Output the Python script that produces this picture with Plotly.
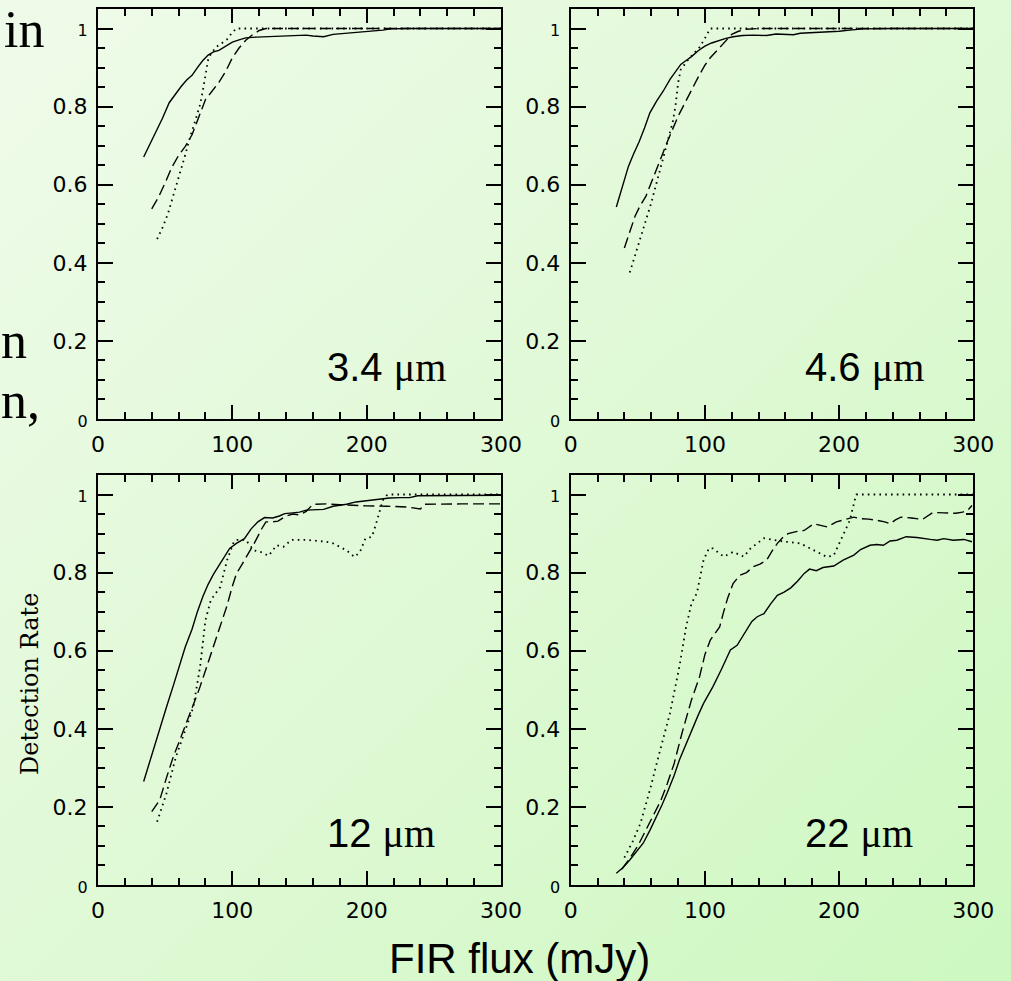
import base64
import plotly.graph_objects as go

# ---- detection-rate curves, one panel per WISE band ----
# 3.4 micron
s34_x = [34, 38, 43, 48, 53, 58, 62, 66, 70, 74, 78, 82, 86, 90, 95, 100, 105, 110, 118, 126,
         135, 145, 155, 160, 168, 175, 185, 195, 205, 212, 218, 230, 260, 300]
s34_y = [0.671, 0.70, 0.733, 0.77, 0.81, 0.835, 0.852, 0.868, 0.880, 0.900, 0.918, 0.932, 0.940,
         0.944, 0.955, 0.965, 0.971, 0.976, 0.978, 0.979, 0.979, 0.980, 0.983, 0.981, 0.979, 0.985,
         0.988, 0.991, 0.993, 0.996, 0.999, 1.0, 1.0, 1.0]
d34_x = [40, 45, 50, 55, 60, 65, 70, 75, 80, 85, 90, 95, 100, 105, 110, 115, 120, 125, 160, 220, 300]
d34_y = [0.538, 0.568, 0.605, 0.645, 0.675, 0.698, 0.728, 0.775, 0.818, 0.840, 0.862, 0.890, 0.925,
         0.950, 0.970, 0.984, 0.995, 1.0, 1.0, 1.0, 1.0]
o34_x = [44, 48, 52, 56, 60, 64, 68, 72, 76, 78, 80, 82, 84, 88, 92, 96, 100, 103, 150, 220, 300]
o34_y = [0.461, 0.49, 0.525, 0.57, 0.615, 0.665, 0.715, 0.76, 0.805, 0.84, 0.885, 0.92, 0.935,
         0.953, 0.962, 0.972, 0.99, 1.0, 1.0, 1.0, 1.0]

# 4.6 micron
s46_x = [34, 38, 43, 47, 51, 55, 59, 64, 69, 74, 78, 82, 86, 90, 95, 100, 105, 110, 115, 121,
         128, 136, 146, 153, 160, 166, 171, 180, 190, 200, 208, 218, 240, 300]
s46_y = [0.543, 0.59, 0.647, 0.68, 0.71, 0.745, 0.784, 0.814, 0.84, 0.87, 0.89, 0.908, 0.918, 0.928,
         0.943, 0.955, 0.963, 0.969, 0.974, 0.979, 0.982, 0.983, 0.982, 0.986, 0.985, 0.984, 0.988,
         0.989, 0.991, 0.993, 0.996, 0.999, 1.0, 1.0]
d46_x = [40, 44, 48, 52, 56, 60, 64, 68, 72, 76, 80, 84, 88, 92, 96, 100, 104, 108, 112, 116,
         120, 125, 130, 140, 180, 220, 300]
d46_y = [0.438, 0.48, 0.52, 0.548, 0.57, 0.605, 0.638, 0.675, 0.71, 0.745, 0.775, 0.802, 0.83,
         0.857, 0.882, 0.906, 0.925, 0.94, 0.955, 0.97, 0.985, 0.993, 0.998, 1.0, 1.0, 1.0, 1.0]
o46_x = [44, 48, 52, 56, 60, 64, 68, 72, 76, 78, 80, 82, 84, 88, 92, 96, 100, 104, 130, 200, 300]
o46_y = [0.375, 0.42, 0.462, 0.505, 0.553, 0.605, 0.655, 0.708, 0.76, 0.80, 0.86, 0.895, 0.905,
         0.922, 0.937, 0.952, 0.975, 1.0, 1.0, 1.0, 1.0]

# 12 micron
s12_x = [34, 38, 42, 46, 51, 56, 61, 65, 70, 74, 78, 82, 86, 90, 94, 98, 103, 109, 114, 119,
         124, 130, 135, 139, 145, 150, 155, 162, 168, 175, 185, 192, 200, 210, 217, 225, 232, 238,
         260, 300]
s12_y = [0.265, 0.31, 0.354, 0.405, 0.456, 0.51, 0.567, 0.61, 0.655, 0.70, 0.738, 0.77, 0.796,
         0.818, 0.838, 0.862, 0.875, 0.887, 0.912, 0.93, 0.941, 0.94, 0.945, 0.951, 0.953, 0.955,
         0.960, 0.961, 0.962, 0.970, 0.975, 0.981, 0.984, 0.988, 0.991, 0.992, 0.992, 0.997,
         0.997, 0.998]
d12_x = [40, 46, 51, 56, 61, 66, 71, 76, 81, 86, 91, 96, 100, 103, 107, 111, 116, 122, 125, 130,
         134, 140, 145, 150, 155, 160, 170, 180, 190, 200, 215, 230, 240, 243, 270, 300]
d12_y = [0.188, 0.218, 0.275, 0.328, 0.372, 0.415, 0.462, 0.508, 0.56, 0.612, 0.665, 0.715, 0.765,
         0.797, 0.82, 0.843, 0.873, 0.913, 0.93, 0.93, 0.932, 0.945, 0.95, 0.948, 0.957, 0.975,
         0.976, 0.974, 0.972, 0.971, 0.970, 0.968, 0.963, 0.975, 0.976, 0.976]
o12_x = [44, 51, 58, 66, 71, 76, 80, 84, 91, 96, 101, 103, 110, 116, 121, 127, 133, 138, 144,
         155, 170, 175, 185, 191, 195, 199, 204, 207, 212, 215, 217, 300]
o12_y = [0.162, 0.235, 0.328, 0.405, 0.456, 0.559, 0.678, 0.73, 0.763, 0.831, 0.878, 0.884, 0.884,
         0.857, 0.853, 0.843, 0.87, 0.866, 0.884, 0.884, 0.879, 0.875, 0.857, 0.84, 0.853, 0.887,
         0.892, 0.925, 0.985, 0.998, 1.0, 1.0]

# 22 micron
s22_x = [34, 39, 44, 49, 54, 59, 64, 68, 72, 77, 81, 86, 91, 95, 99, 103, 106, 112, 119, 124,
         128, 131, 135, 139, 144, 149, 154, 159, 164, 169, 174, 178, 183, 188, 196, 203, 211, 216,
         223, 228, 233, 238, 243, 250, 258, 268, 273, 278, 285, 293, 299]
s22_y = [0.030, 0.045, 0.064, 0.085, 0.107, 0.14, 0.175, 0.205, 0.237, 0.28, 0.32, 0.362, 0.405,
         0.435, 0.465, 0.49, 0.508, 0.55, 0.602, 0.614, 0.635, 0.653, 0.675, 0.687, 0.695, 0.72,
         0.742, 0.75, 0.761, 0.778, 0.798, 0.809, 0.805, 0.813, 0.817, 0.832, 0.845, 0.859, 0.87,
         0.872, 0.870, 0.881, 0.883, 0.892, 0.89, 0.885, 0.883, 0.887, 0.883, 0.885, 0.879]
d22_x = [38, 44, 50, 56, 62, 67, 72, 77, 83, 90, 96, 100, 104, 108, 111, 114, 117, 121, 126, 131,
         136, 141, 146, 150, 154, 158, 162, 168, 174, 181, 186, 191, 198, 204, 211, 216, 222, 228,
         234, 238, 242, 246, 254, 262, 266, 270, 278, 287, 292, 296, 299]
d22_y = [0.04, 0.068, 0.10, 0.14, 0.18, 0.215, 0.26, 0.31, 0.39, 0.474, 0.533, 0.59, 0.627, 0.645,
         0.661, 0.70, 0.735, 0.772, 0.793, 0.80, 0.815, 0.822, 0.832, 0.855, 0.875, 0.89, 0.90,
         0.905, 0.908, 0.925, 0.921, 0.917, 0.93, 0.935, 0.942, 0.938, 0.937, 0.934, 0.93, 0.925,
         0.935, 0.942, 0.94, 0.936, 0.945, 0.954, 0.953, 0.952, 0.955, 0.96, 0.972]
o22_x = [40, 46, 52, 59, 66, 74, 81, 86, 90, 94, 99, 103, 106, 114, 121, 129, 134, 144, 151, 158,
         171, 181, 191, 196, 201, 208, 212, 213, 250, 300]
o22_y = [0.07, 0.11, 0.158, 0.243, 0.337, 0.44, 0.559, 0.661, 0.721, 0.747, 0.832, 0.862, 0.862,
         0.841, 0.853, 0.841, 0.862, 0.888, 0.884, 0.88, 0.875, 0.857, 0.84, 0.844, 0.883, 0.934,
         0.99, 1.0, 1.0, 1.0]

bands = ["3.4", "4.6", "12", "22"]
panels = [
    (s34_x, s34_y, d34_x, d34_y, o34_x, o34_y),
    (s46_x, s46_y, d46_x, d46_y, o46_x, o46_y),
    (s12_x, s12_y, d12_x, d12_y, o12_x, o12_y),
    (s22_x, s22_y, d22_x, d22_y, o22_x, o22_y),
]

x_ticks = [0, 100, 200, 300]
y_ticks = [0, 0.2, 0.4, 0.6, 0.8, 1]
y_ticktext = ["<span style='font-size:16px'>0</span>", "0.2", "0.4", "0.6", "0.8",
              "<span style='font-size:16px'>1</span>"]

W, H = 1011, 981

# panel frames in pixels: (left, right, top, bottom)
frames = [(98, 501, 9, 419), (570.7, 973.3, 9, 419),
          (98, 501, 475, 885), (570.7, 973.3, 475, 885)]

# soft diagonal green wash for the whole slide
bg_svg = (
    f'<svg xmlns="http://www.w3.org/2000/svg" width="{W}" height="{H}" '
    f'viewBox="0 0 {W} {H}" preserveAspectRatio="none">'
    '<defs><linearGradient id="g" x1="0" y1="0" x2="1" y2="1">'
    '<stop offset="0" stop-color="#effbea"/>'
    '<stop offset="0.5" stop-color="#e0f9d6"/>'
    '<stop offset="1" stop-color="#cdf8c0"/>'
    '</linearGradient></defs>'
    f'<rect x="0" y="0" width="{W}" height="{H}" fill="url(#g)"/></svg>'
)
bg_uri = "data:image/svg+xml;base64," + base64.b64encode(bg_svg.encode()).decode()

fig = go.Figure()

layout = dict(
    width=W, height=H,
    margin=dict(l=0, r=0, t=0, b=0, autoexpand=False),
    paper_bgcolor="#e0f9d6",
    plot_bgcolor="rgba(0,0,0,0)",
    showlegend=False,
    images=[dict(source=bg_uri, xref="paper", yref="paper", x=0, y=1, sizex=1, sizey=1,
                 xanchor="left", yanchor="top", sizing="stretch", layer="below")],
)

tick_font = dict(family="DejaVu Sans", size=22, color="black")

for i, (sx, sy, dx, dy, ox, oy) in enumerate(panels):
    n = "" if i == 0 else str(i + 1)
    xa, ya = f"x{n}", f"y{n}"
    l, r, t, b = frames[i]
    fig.add_trace(go.Scatter(x=sx, y=sy, mode="lines", xaxis=xa, yaxis=ya,
                             line=dict(color="black", width=1.4)))
    fig.add_trace(go.Scatter(x=dx, y=dy, mode="lines", xaxis=xa, yaxis=ya,
                             line=dict(color="black", width=1.4, dash="11px,5px")))
    fig.add_trace(go.Scatter(x=ox, y=oy, mode="lines", xaxis=xa, yaxis=ya,
                             line=dict(color="black", width=1.8, dash="1.6px,4.2px")))
    layout[f"xaxis{n}"] = dict(
        domain=[l / W, r / W], anchor=ya, range=[0, 300], automargin=False,
        tickmode="array", tickvals=x_ticks, ticks="inside", ticklen=14, tickwidth=2,
        tickcolor="black", showline=True, linecolor="black", linewidth=2, mirror="ticks",
        showgrid=False, zeroline=False, tickfont=tick_font, ticklabelstandoff=5,
        minor=dict(dtick=20, tick0=0, ticks="inside", ticklen=7, tickwidth=2,
                   tickcolor="black", showgrid=False),
        fixedrange=True)
    layout[f"yaxis{n}"] = dict(
        domain=[1 - b / H, 1 - t / H], anchor=xa, range=[0, 1.05], automargin=False,
        tickmode="array", tickvals=y_ticks, ticktext=y_ticktext, ticks="inside", ticklen=15,
        tickwidth=2, tickcolor="black", showline=True, linecolor="black", linewidth=2,
        mirror="ticks", showgrid=False, zeroline=False, tickfont=tick_font,
        ticklabelstandoff=4,
        minor=dict(dtick=0.05, tick0=0, ticks="inside", ticklen=7, tickwidth=2,
                   tickcolor="black", showgrid=False),
        fixedrange=True)

annotations = []
label_pos = [(325, 368), (803, 368), (325, 833), (803, 833)]
for band, (px, py) in zip(bands, label_pos):
    annotations.append(dict(
        xref="paper", yref="paper", x=px / W, y=1 - py / H, xanchor="left", yanchor="middle",
        showarrow=False,
        text=f"{band} <span style='font-family:Liberation Serif'>\u03bcm</span>",
        font=dict(family="Liberation Sans", size=40, color="black")))

annotations.append(dict(
    xref="paper", yref="paper", x=519 / W, y=1 - 958 / H, xanchor="center", yanchor="middle",
    showarrow=False, text="FIR flux (mJy)",
    font=dict(family="Liberation Sans", size=42, color="black")))

annotations.append(dict(
    xref="paper", yref="paper", x=30 / W, y=1 - 684 / H, xanchor="center", yanchor="middle",
    showarrow=False, text="Detection Rate", textangle=-90,
    font=dict(family="DejaVu Serif", size=24, color="black")))

# word endings of the slide text running in from the left edge
for txt, px, py in [("in", 46, 29), ("n", 29, 340.5), ("n,", 42, 400.5)]:
    annotations.append(dict(
        xref="paper", yref="paper", x=px / W, y=1 - py / H, xanchor="right", yanchor="middle",
        showarrow=False, text=txt,
        font=dict(family="Liberation Serif", size=52, color="black")))

layout["annotations"] = annotations
fig.update_layout(**layout)
fig.write_html("out.html")
